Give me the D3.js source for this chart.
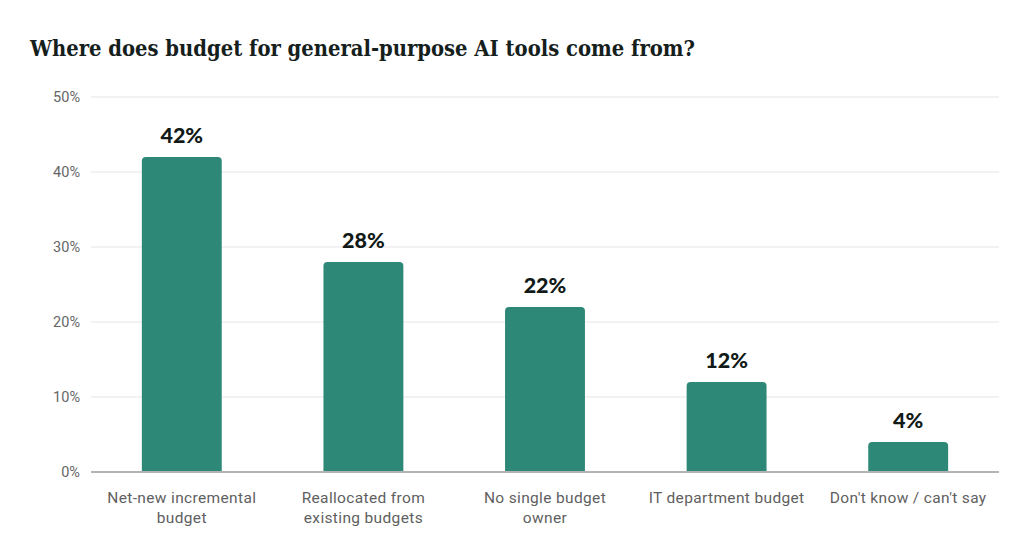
<!DOCTYPE html>
<html><head><meta charset="utf-8">
<script src="https://cdn.jsdelivr.net/npm/d3@7"></script>
<style>
body{margin:0;background:#fff;}
svg{display:block;}
</style></head><body>
<svg id="c" width="1029" height="543"></svg>
<script>
const categories = [["Net-new incremental","budget"],["Reallocated from","existing budgets"],["No single budget","owner"],["IT department budget"],["Don't know / can't say"]];
const values = [42, 28, 22, 12, 4];
const yTicks = [0, 10, 20, 30, 40, 50];
const title = "Where does budget for general-purpose AI tools come from?";

const svg = d3.select("#c");
const m = {l: 91, r: 999, t: 97, b: 472};
const x = d3.scaleBand().domain(d3.range(values.length)).range([m.l, m.r]).paddingInner(0.56).paddingOuter(0.28);
const y = d3.scaleLinear().domain([0, 50]).range([m.b, m.t]);

svg.append("text").attr("x", 30).attr("y", 56)
  .attr("font-family", "'DejaVu Serif Condensed','DejaVu Serif',serif").attr("font-weight", "bold")
  .attr("font-size", 22).attr("fill", "#15201c")
  .attr("textLength", 665).attr("lengthAdjust", "spacingAndGlyphs").text(title);

svg.append("g").selectAll("line").data(yTicks.filter(d => d > 0)).join("line")
  .attr("x1", m.l).attr("x2", m.r).attr("y1", d => y(d)).attr("y2", d => y(d))
  .attr("stroke", "#e6e6e6").attr("stroke-width", 1.2);

svg.append("g").selectAll("text").data(yTicks).join("text")
  .attr("x", 80).attr("y", d => y(d) + 5).attr("text-anchor", "end")
  .attr("font-family", "Roboto, sans-serif").attr("font-size", 14.5).attr("fill", "#666")
  .text(d => d + "%");

const r = 4;
svg.append("g").selectAll("path").data(values).join("path")
  .attr("fill", "#2d8877")
  .attr("d", (d, i) => {
    const x0 = x(i), w = x.bandwidth(), y0 = y(d), y1 = y(0);
    return `M${x0},${y1}V${y0 + r}Q${x0},${y0} ${x0 + r},${y0}H${x0 + w - r}Q${x0 + w},${y0} ${x0 + w},${y0 + r}V${y1}Z`;
  });

svg.append("line").attr("x1", m.l).attr("x2", m.r).attr("y1", y(0)).attr("y2", y(0))
  .attr("stroke", "#b3b3b3").attr("stroke-width", 2);

svg.append("g").selectAll("text").data(values).join("text")
  .attr("x", (d, i) => x(i) + x.bandwidth() / 2).attr("y", d => y(d) - 14)
  .attr("text-anchor", "middle").attr("font-family", "Lato, sans-serif").attr("font-weight", "900")
  .attr("font-size", 21.5).attr("fill", "#111a17").text(d => d + "%");

const lab = svg.append("g").selectAll("text").data(categories).join("text")
  .attr("x", (d, i) => x(i) + x.bandwidth() / 2).attr("y", 503)
  .attr("text-anchor", "middle").attr("font-family", "Roboto, sans-serif")
  .attr("font-size", 15.5).attr("letter-spacing", 0.35).attr("fill", "#5f5f5f");
lab.selectAll("tspan").data(d => d).join("tspan")
  .attr("x", function() { return this.parentNode.getAttribute("x"); })
  .attr("dy", (d, j) => j === 0 ? 0 : 20).text(d => d);
</script>
</body></html>
